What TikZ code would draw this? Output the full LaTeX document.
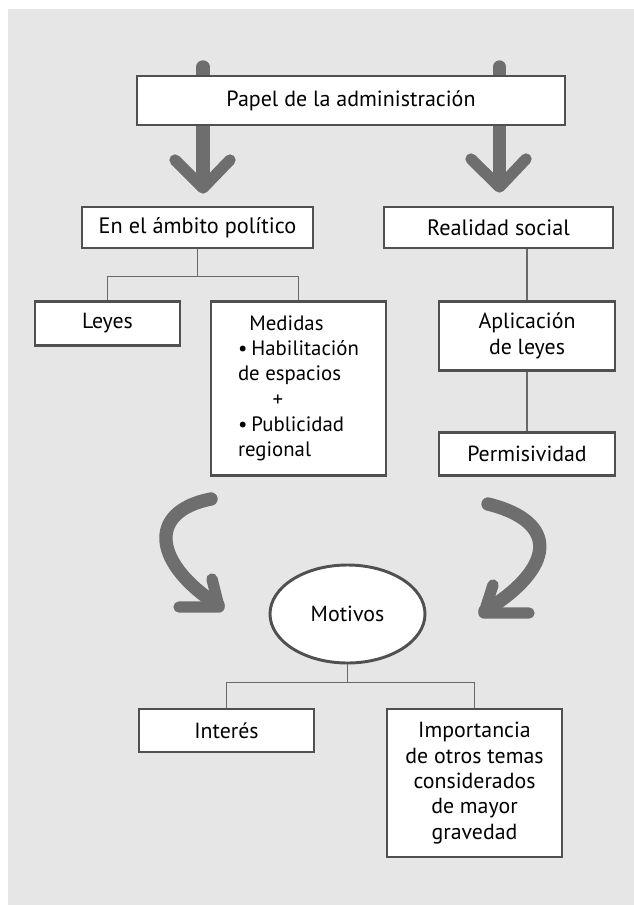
\documentclass[tikz,border=0pt]{standalone}
\usepackage{fontspec}
\setmainfont{PT Sans}
\usetikzlibrary{positioning}
\usetikzlibrary{shapes}
\definecolor{fondogris}{RGB}{230,230,230}
\definecolor{bordegris}{RGB}{80,80,80}
\definecolor{flechagris}{RGB}{110,110,110}
\definecolor{lineagris}{RGB}{105,105,105}

\begin{document}
\begin{tikzpicture}[x=0.75pt,y=0.75pt,yscale=-1,xscale=1,
  caja/.style={draw=bordegris, line width=2.2pt, fill=white, inner sep=0pt, align=center, font=\fontsize{16.4}{19}\selectfont},
  flecha/.style={draw=flechagris, line width=10pt, line cap=round, line join=round},
  punta/.style={draw=flechagris, line width=8.5pt, line cap=round, line join=round},
  rama/.style={draw=lineagris, line width=1pt}]
\useasboundingbox (0,0) rectangle (634,905);

%Shape: Rectangle [fondo]
\fill [fondogris] (8,9) rectangle (634,905);

%Shape: Arrow [izquierda]
\draw [flecha] (203,67) -- (203,186);
\draw [punta] (175,160) -- (203,188) -- (230,160);
%Shape: Arrow [derecha]
\draw [flecha] (499.5,67) -- (499.5,184);
\draw [punta] (471,159) -- (499.5,187) -- (526,159);

%Shape: Curved Arrow [izquierda]
\draw [flecha] (211,499) .. controls (145,512) and (155,565) .. (218,605);
\draw [punta] (179,607) -- (219,607) -- (212,579);
%Shape: Curved Arrow [derecha]
\draw [flecha] (488,504) .. controls (560,522) and (555,568) .. (485,611);
\draw [punta] (529,613) -- (484,613) -- (493,585);

% Text Node
\node [caja, minimum width=321pt, minimum height=36.75pt, font=\fontsize{16.5}{19}\selectfont] (titulo) at (351,100.5) {Papel de la administración};
% Text Node
\node [caja, minimum width=173.25pt, minimum height=30.75pt, font=\fontsize{16.7}{19}\selectfont] (ambito) at (197.5,227.5) {En el ámbito político};
% Text Node
\node [caja, minimum width=171.75pt, minimum height=30.75pt, font=\fontsize{16.7}{19}\selectfont] (realidad) at (498.5,227.5) {Realidad social};
% Text Node
\node [caja, minimum width=108.75pt, minimum height=32.5pt] (leyes) at (107.5,323.4) {Leyes};
% Text Node
\node [caja, minimum width=131.25pt, minimum height=130pt, align=left, font=\fontsize{15.6}{19}\selectfont] (medidas) at (298.5,388.4) {\hspace*{8.6pt}Medidas\\•\hspace{3pt}Habilitación\\de espacios\\\hspace*{26pt}+\\•\hspace{3pt}Publicidad\\regional};
% Text Node
\node [caja, minimum width=132pt, minimum height=51.2pt] (aplic) at (527,335.9) {Aplicación\\de leyes};
% Text Node
\node [caja, minimum width=132pt, minimum height=31.7pt] (permis) at (527,453.9) {Permisividad};
% Text Node
\node [caja, ellipse, minimum width=116.25pt, minimum height=73.5pt] (motivos) at (347.5,614) {Motivos};
% Text Node
\node [caja, minimum width=131.25pt, minimum height=32.25pt] (interes) at (226.5,730.5) {Interés};
% Text Node
\node [caja, minimum width=131.25pt, minimum height=111pt] (importancia) at (474.5,783) {Importancia\\de otros temas\\considerados\\de mayor\\gravedad};

%Straight Lines
\coordinate (nudoA) at (197.5,276.5);
\draw [rama] (ambito) -- (nudoA);
\draw [rama] (leyes.north) |- (nudoA) -| (medidas.north);
\draw [rama] (aplic.north) -- (aplic.north |- realidad.south);
\draw [rama] (aplic) -- (permis);
\coordinate (nudoB) at (347.5,682.7);
\draw [rama] (motivos) -- (nudoB);
\draw [rama] (interes.north) |- (nudoB) -| (importancia.north);

\end{tikzpicture}
\end{document}
